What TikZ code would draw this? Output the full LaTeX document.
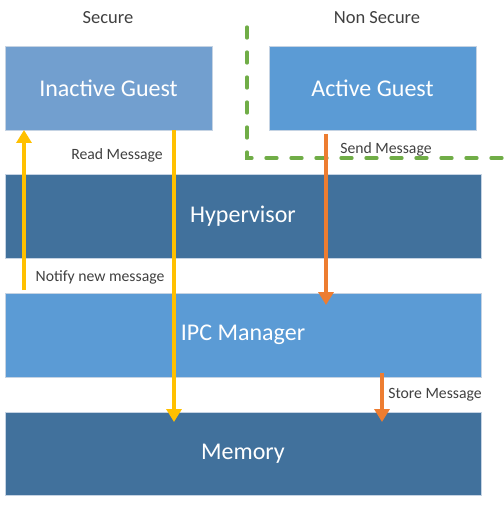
\documentclass[tikz,border=0pt]{standalone}
\usepackage{fontspec}
\setmainfont{Carlito}
\usetikzlibrary{arrows.meta,calc}
\definecolor{lightblue}{HTML}{729FCF}
\definecolor{midblue}{HTML}{5B9BD5}
\definecolor{darkblue}{HTML}{41719C}
\definecolor{boxedge}{HTML}{C5D3E3}
\definecolor{yel}{HTML}{FFC000}
\definecolor{ora}{HTML}{ED7D31}
\definecolor{grn}{HTML}{70AD47}
\definecolor{lbl}{HTML}{404040}
\tikzset{
  blk/.style={draw=boxedge, line width=0.8pt, anchor=north west, inner sep=0pt, outer sep=0pt},
  blktext/.style={text=white, font=\fontsize{24}{28}\selectfont},
  lab/.style={text=lbl, font=\fontsize{15.7}{18}\selectfont, inner sep=0pt},
  zonelab/.style={text=lbl, font=\fontsize{18.5}{22}\selectfont, inner sep=0pt},
  yarrow/.style={draw=yel, line width=3.3pt, -{Triangle[width=15pt,length=13pt]}},
  oarrow/.style={draw=ora, line width=3.3pt, -{Triangle[width=15pt,length=13pt]}},
  zone/.style={draw=grn, line width=3.3pt, line cap=round, dash pattern=on 11pt off 14pt}
}
\begin{document}
\begin{tikzpicture}[x=1pt,y=-1pt]
\useasboundingbox (0,0) rectangle (503,505);
% boxes
\node[blk, fill=lightblue, minimum width=207pt, minimum height=84pt] (inactive) at (5,46) {};
\node[blktext] (inactivetext) at (inactive.center) {Inactive Guest};
\node[blk, fill=midblue, minimum width=207pt, minimum height=84pt] (active) at (269,46) {};
\node[blktext] (activetext) at (active.center) {Active Guest};
\node[blk, fill=darkblue, minimum width=476pt, minimum height=84pt] (hyp) at (5,174) {};
\node[blktext] (hyptext) at (hyp.center) {Hypervisor};
\node[blk, fill=midblue, minimum width=476pt, minimum height=84pt] (ipc) at (5,293) {};
\node[blktext] (ipctext) at (ipc.center) {IPC Manager};
\node[blk, fill=darkblue, minimum width=476pt, minimum height=83pt] (mem) at (5,412) {};
\node[blktext] (memtext) at (mem.center) {Memory};
% zone labels
\node[zonelab] (secure) at (108,18) {Secure};
\node[zonelab] (nonsecure) at (377,18) {Non Secure};
% green dashed boundary
\coordinate (gtop) at (247,27);
\coordinate (gcorner) at (247,158);
\coordinate (gend) at (503,158);
\draw[zone] (gtop) -- (gcorner) -- (gend);
% arrows
\draw[yarrow] ($(ipc.north west)+(19,-3)$) -- ($(inactive.south west)+(19,0)$);
\draw[yarrow] ($(inactive.south west)+(169,0)$) -- ($(mem.north west)+(169,10)$);
\draw[oarrow] ($(active.south west)+(57,4)$) -- ($(ipc.north west)+(321,12)$);
\draw[oarrow] ($(ipc.south west)+(377,-4)$) -- ($(mem.north west)+(377,10)$);
% arrow labels
\node[lab] (read) at (117,155) {Read Message};
\node[lab] (send) at (386,149) {Send Message};
\node[lab] (notify) at (100,277) {Notify new message};
\node[lab] (store) at (435,395) {Store Message};
\end{tikzpicture}
\end{document}
